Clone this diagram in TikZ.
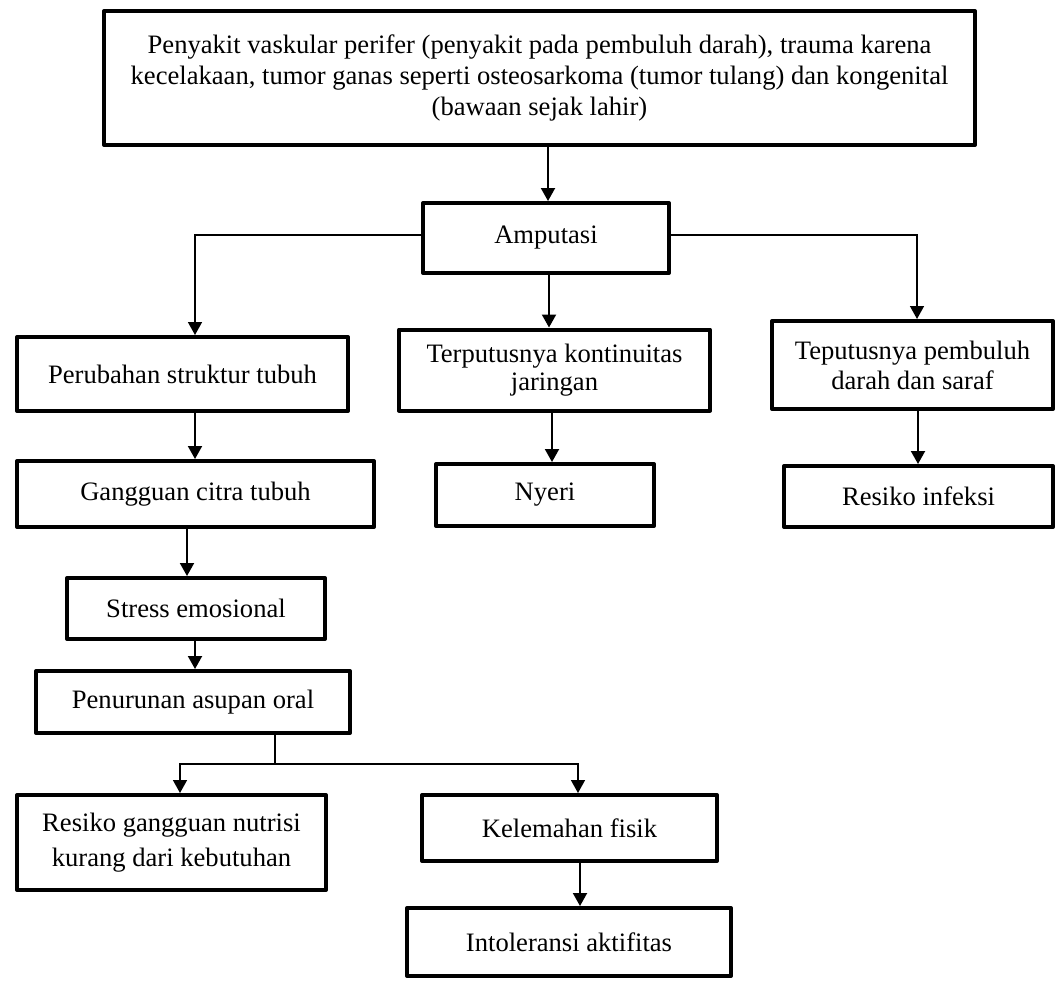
\documentclass[tikz,border=0pt]{standalone}
\usepackage{fontspec}
\setmainfont{Liberation Serif}
\usetikzlibrary{arrows.meta,calc}
\newcommand\boxfs{\fontsize{26.6}{31}\selectfont}
\tikzset{
  box/.style={draw, line width=4pt, line join=round, align=center, inner sep=0pt, font=\boxfs},
  link/.style={line width=2pt, -{Triangle[width=14pt,length=13pt]}},
  thinlink/.style={line width=1.5pt, -{Triangle[width=14pt,length=13pt]}},
  plainlink/.style={line width=1.5pt},
}
\begin{document}
\begin{tikzpicture}[x=1pt,y=-1pt]
\useasboundingbox (0,0) rectangle (1059,980);
\node[box, minimum width=871pt, minimum height=134pt] (top) at (539.5,78)
  {Penyakit vaskular perifer (penyakit pada pembuluh darah), trauma karena\\
   kecelakaan, tumor ganas seperti osteosarkoma (tumor tulang) dan kongenital\\
   (bawaan sejak lahir)};
\node[box, minimum width=246pt, minimum height=70pt] (amp) at (546,238) {Amputasi};
\node[box, minimum width=331pt, minimum height=74pt] (per) at (182.5,374) {Perubahan struktur tubuh};
\node[box, minimum width=311pt, minimum height=81pt, font=\fontsize{26.6}{28.5}\selectfont] (ter) at (554.5,370) {Terputusnya kontinuitas\\jaringan};
\node[box, minimum width=281pt, minimum height=88pt, font=\fontsize{26.6}{30}\selectfont] (tep) at (912.5,365) {Teputusnya pembuluh\\darah dan saraf};
\node[box, minimum width=357pt, minimum height=66pt] (gan) at (195.5,494) {Gangguan citra tubuh};
\node[box, minimum width=218pt, minimum height=62pt] (nye) at (545,495) {Nyeri};
\node[box, minimum width=269pt, minimum height=61pt] (inf) at (918.5,496.5) {Resiko infeksi};
\node[box, minimum width=258pt, minimum height=61pt] (str) at (196,608.5) {Stress emosional};
\node[box, minimum width=314pt, minimum height=62pt] (pen) at (193,702) {Penurunan asupan oral};
\node[box, minimum width=309pt, minimum height=95pt, font=\fontsize{26.6}{35}\selectfont] (res) at (171.5,842.5) {Resiko gangguan nutrisi\\kurang dari kebutuhan};
\node[box, minimum width=295pt, minimum height=66pt] (kel) at (569.5,828) {Kelemahan fisik};
\node[box, minimum width=324pt, minimum height=68pt] (int) at (569,942) {Intoleransi aktifitas};
\coordinate (fork) at (275,764);

\draw[link] ([xshift=2pt]top.south -| amp.north) -- ([xshift=2pt]amp.north);
\draw[thinlink] ([yshift=3pt]amp.west) -| ([xshift=12.5pt]per.north);
\draw[thinlink] ([yshift=3pt]amp.east) -| ([xshift=4.5pt]tep.north);
\draw[link] ([xshift=3pt]amp.south) -- ([xshift=3pt]amp.south |- ter.north);
\draw[link] ([xshift=12.5pt]per.south) -- ([xshift=12.5pt]per.south |- gan.north);
\draw[link] ([xshift=-2.5pt]ter.south) -- ([xshift=-2.5pt]ter.south |- nye.north);
\draw[link] ([xshift=5.5pt]tep.south) -- ([xshift=5.5pt]tep.south |- inf.north);
\draw[link] ([xshift=-8.5pt]gan.south) -- ([xshift=-8.5pt]gan.south |- str.north);
\draw[link] ([xshift=-1pt]str.south) -- ([xshift=-1pt]str.south |- pen.north);
\draw[plainlink] (pen.south -| fork) -- (fork);
\draw[thinlink] (fork) -| ([xshift=8.5pt]res.north);
\draw[thinlink] (fork) -| ([xshift=8.5pt]kel.north);
\draw[link] ([xshift=10.5pt]kel.south) -- ([xshift=10.5pt]kel.south |- int.north);
\end{tikzpicture}
\end{document}
